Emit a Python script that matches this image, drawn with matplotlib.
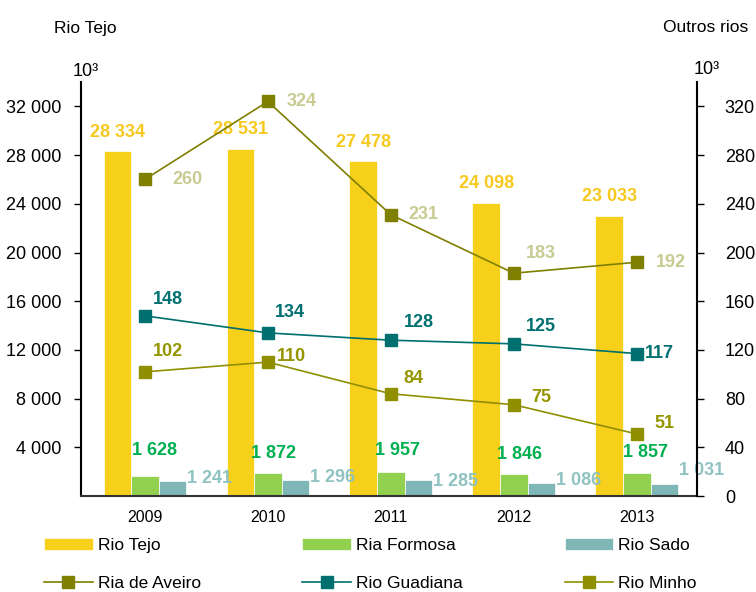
import matplotlib
matplotlib.use("Agg")
import matplotlib.pyplot as plt
from matplotlib.ticker import FuncFormatter
import numpy as np

plt.rcParams['font.family'] = ['Liberation Sans', 'DejaVu Sans']

# dados
anos = ["2009", "2010", "2011", "2012", "2013"]
rio_tejo = [28334, 28531, 27478, 24098, 23033]
ria_formosa = [1628, 1872, 1957, 1846, 1857]
rio_sado = [1241, 1296, 1285, 1086, 1031]
ria_aveiro = [260, 324, 231, 183, 192]
rio_guadiana = [148, 134, 128, 125, 117]
rio_minho = [102, 110, 84, 75, 51]

# deslocamentos dos rotulos (pixeis)
off_aveiro = [(43, 0), (34, 0), (33, 0), (27, 20), (34, 0)]
off_guadiana = [(23, 16), (22, 20), (28, 18), (27, 17), (23, 0)]
off_minho = [(23, 20), (24, 6), (23, 15), (27, 7), (28, 10)]
off_formosa = [(10, 26), (6, 20), (7, 22), (6, 19), (9, 21)]
off_sado = [(1, 2), (1, 3), (1, -1), (1, 2), (1, 13)]

c_tejo, c_formosa, c_sado = "#F6D01A", "#92D050", "#7FB6B6"
c_aveiro, c_guadiana, c_minho = "#7F7F00", "#006F6F", "#8F8F00"


def fmt(v):
    return f"{v:,.0f}".replace(",", " ")


fig = plt.figure(figsize=(7.56, 5.92), dpi=100)
ax = fig.add_axes([0.107, 0.162, 0.815, 0.6995])
x = np.arange(len(anos))
w = 0.224

b1 = ax.bar(x - w, rio_tejo, w, color=c_tejo, edgecolor="white", linewidth=0.5, label="Rio Tejo")
b2 = ax.bar(x, ria_formosa, w, color=c_formosa, edgecolor="white", linewidth=0.5, label="Ria Formosa")
b3 = ax.bar(x + w, rio_sado, w, color=c_sado, edgecolor="white", linewidth=0.5, label="Rio Sado")

ax.set_xlim(-0.52, 4.49)
ax.set_ylim(0, 34000)
ax.set_yticks(range(4000, 32001, 4000))
ax.yaxis.set_major_formatter(FuncFormatter(lambda v, p: fmt(v)))
ax.set_xticks(x)
ax.set_xticklabels(anos, fontsize=11.5)
ax.tick_params(axis="x", length=0, pad=10)
ax.tick_params(axis="y", length=5, width=1, labelsize=13, pad=9)
for s in ["top", "right"]:
    ax.spines[s].set_visible(False)
ax.spines["left"].set_linewidth(1.5)
ax.spines["bottom"].set_linewidth(1.5)
ax.spines["bottom"].set_color("#333333")

for i, v in enumerate(rio_tejo):
    ax.annotate(fmt(v), (x[i] - w, v), xytext=(0, 19), textcoords="offset pixels",
                ha="center", va="center", fontsize=13, fontweight="bold", color="#F7C81E")
for i, v in enumerate(ria_formosa):
    ax.annotate(fmt(v), (x[i], v), xytext=off_formosa[i], textcoords="offset pixels",
                ha="center", va="center", fontsize=13, fontweight="bold", color="#00B050")
for i, v in enumerate(rio_sado):
    ax.annotate(fmt(v), (x[i] + 1.5 * w, v), xytext=off_sado[i], textcoords="offset pixels",
                ha="left", va="center", fontsize=13, fontweight="bold", color="#90C2C2")

ax2 = ax.twinx()
ax2.set_ylim(0, 340)
ax2.set_yticks(range(0, 321, 40))
ax2.tick_params(axis="y", length=5, width=1, labelsize=13, pad=15)
for s in ["top", "left", "bottom"]:
    ax2.spines[s].set_visible(False)
ax2.spines["right"].set_linewidth(1.5)

l1, = ax2.plot(x, ria_aveiro, color=c_aveiro, lw=1.2, marker="s", ms=9, label="Ria de Aveiro")
l2, = ax2.plot(x, rio_guadiana, color=c_guadiana, lw=1.2, marker="s", ms=9, label="Rio Guadiana")
l3, = ax2.plot(x, rio_minho, color=c_minho, lw=1.2, marker="s", ms=9, label="Rio Minho")

series = [(ria_aveiro, off_aveiro, "#C8CB92"),
          (rio_guadiana, off_guadiana, "#007070"),
          (rio_minho, off_minho, "#959500")]
for vals, offs, col in series:
    for i, v in enumerate(vals):
        ax2.annotate(str(v), (x[i], v), xytext=offs[i], textcoords="offset pixels",
                     ha="center", va="center", fontsize=13, fontweight="bold", color=col)

fig.text(85 / 756, 1 - 28 / 592, "Rio Tejo", ha="center", va="center", fontsize=12.5)
fig.text(706 / 756, 1 - 27 / 592, "Outros rios", ha="center", va="center", fontsize=12.5)
fig.text(86 / 756, 1 - 72 / 592, "10³", ha="center", va="center", fontsize=13)
fig.text(707 / 756, 1 - 70 / 592, "10³", ha="center", va="center", fontsize=13)

handles = [b1, l1, b2, l2, b3, l3]
fig.legend(handles=handles, labels=[h.get_label() for h in handles], ncol=3,
           loc="center", bbox_to_anchor=(0.49, 0.047), frameon=False, fontsize=12.5,
           handlelength=2.8, handletextpad=0.3, columnspacing=5.85, labelspacing=1.3,
           borderpad=0)

fig.savefig("out.png", dpi=100)
